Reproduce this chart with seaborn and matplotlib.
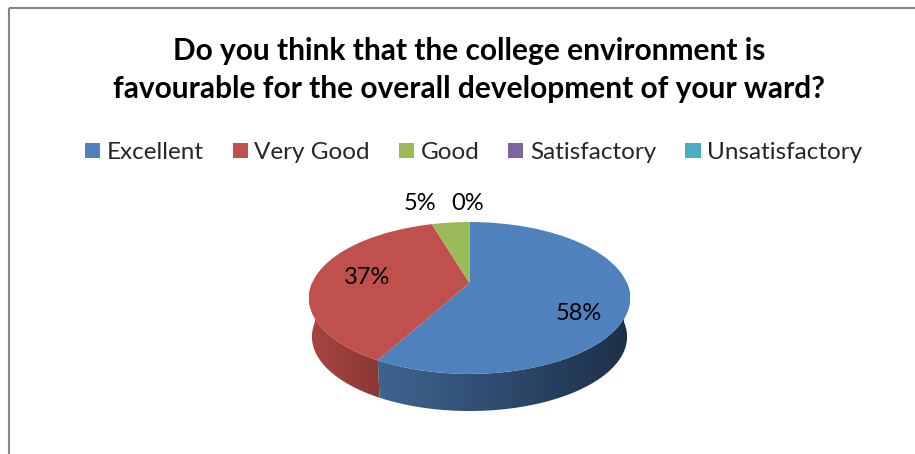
import numpy as np
import matplotlib
matplotlib.use('Agg')
from matplotlib import pyplot as plt
from matplotlib.colors import LinearSegmentedColormap
from matplotlib.patches import PathPatch, Patch, Rectangle
from matplotlib.path import Path
import seaborn as sns

# Данные диаграммы
categories = ['Excellent', 'Very Good', 'Good', 'Satisfactory', 'Unsatisfactory']
values = [58.0, 37.4, 4.6, 0, 0]
colors = ['#4F81BD', '#C0504D', '#9BBB59', '#8064A2', '#4BACC6']
title = 'Do you think that the college environment is\nfavourable for the overall development of your ward?'

sns.set_theme(style='white')
plt.rcParams['font.family'] = ['Lato', 'DejaVu Sans']


# Перспектива 3D-круга: единичный круг -> пиксели картинки
def project(pts, cy=283.0, a=157.4, b=73.0):
    pts = np.asarray(pts, dtype=float)
    w = 1 + 0.197 * pts[:, 1]
    return np.column_stack([469.5 + a * pts[:, 0] / w, cy - b * pts[:, 1] / w])


def rim(t1, t2, **kw):
    t = np.radians(np.linspace(t1, t2, 80))
    return project(np.column_stack([np.cos(t), np.sin(t)]), **kw)


fig = plt.figure(figsize=(9.15, 4.54), dpi=100)
ax = fig.add_axes([0, 0, 1, 1])

wedges, _, autotexts = ax.pie(values, colors=colors, startangle=90, counterclock=False,
                              autopct='%.0f%%', radius=1, center=(0, 0))
ax.set_aspect('auto')
ax.axis('off')

# Боковая стенка с градиентом: только передняя часть обода
low = dict(cy=322.0, a=154.5, b=71.5)
sides = [(wedges[0].theta1, 0, '#3F6491', '#1C2F47'),
         (-180, wedges[1].theta2, '#A8453F', '#8A3835')]
for t1, t2, c1, c2 in sides:
    top = rim(t1, t2)
    bot = rim(t1, t2, **low)
    poly = Path(np.vstack([top, bot[::-1], top[:1]]))
    patch = PathPatch(poly, fc='none', ec='none')
    ax.add_patch(patch)
    cmap = LinearSegmentedColormap.from_list('side', [c1, c2])
    x0, x1 = poly.vertices[:, 0].min(), poly.vertices[:, 0].max()
    y0, y1 = poly.vertices[:, 1].min(), poly.vertices[:, 1].max()
    im = ax.imshow(np.linspace(0, 1, 256).reshape(1, -1), cmap=cmap, aspect='auto',
                   extent=[x0, x1, y1, y0], zorder=1)
    im.set_clip_path(patch)
ax.set_xlim(0, 915)
ax.set_ylim(454, 0)

# Верхняя грань: дольки круга через перспективу
for w, c in zip(wedges, colors):
    path = w.get_path()
    if w.theta2 - w.theta1 > 0.01:
        ax.add_patch(PathPatch(Path(project(path.vertices), path.codes), fc=c, ec='none', zorder=2))
    w.set_visible(False)

# Подписи процентов
label_pos = [(579, 313), (367, 277), (420, 203), (468, 203)]
for t, (x, y) in zip(autotexts, label_pos):
    t.set_position((x, y))
    t.set_fontsize(17)
    t.set_color('black')
    t.set_ha('center')
    t.set_va('center')
    t.set_zorder(5)
autotexts[4].set_visible(False)

ax.text(469, 70, title, ha='center', va='center', fontsize=21.5, fontweight='bold',
        color='black', linespacing=1.4)

handles = [Patch(fc=c, ec='none') for c in colors]
ax.legend(handles, categories, ncol=5, loc='center', bbox_to_anchor=(473.5, 152.5),
          bbox_transform=ax.transData, frameon=False, fontsize=17.5, handlelength=0.62,
          handleheight=0.62, handletextpad=0.27, columnspacing=1.2)

# Рамка диаграммы
ax.add_patch(Rectangle((9, 8), 1000, 1000, fc='none', ec='#868686', lw=1.5, zorder=0))

fig.savefig('out.png', dpi=100)
